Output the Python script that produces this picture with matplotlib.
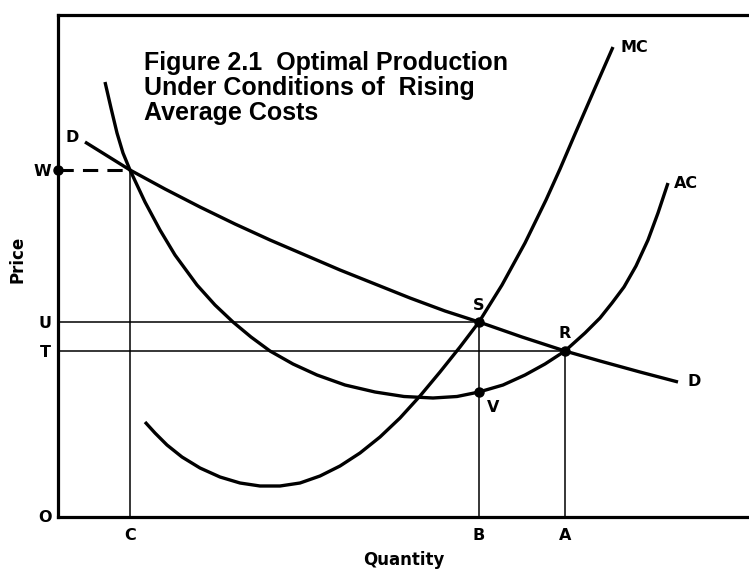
import matplotlib
matplotlib.use("Agg")
import matplotlib.pyplot as plt

# ---- data (quantity, price) ----
demand_q = [2.7, 7.2, 10.7, 14.2, 17.7, 21.2, 24.7, 28.2, 31.7, 35.2, 38.7, 42.1, 46.4, 50.7, 54.2, 58.2, 62.0]
demand_p = [37.5, 34.7, 32.8, 31.0, 29.3, 27.7, 26.2, 24.7, 23.3, 21.9, 20.6, 19.5, 18.0, 16.6, 15.6, 14.5, 13.5]

ac_q = [4.7, 5.3, 5.9, 6.5, 7.2, 8.7, 10.2, 11.7, 13.9, 15.7, 17.5, 19.3, 21.2, 23.5, 25.9, 28.7, 31.7,
        34.6, 37.5, 39.9, 42.1, 44.5, 46.7, 48.7, 50.7, 52.7, 54.2, 55.4, 56.6, 57.8, 59.0, 60.0, 61.0]
ac_p = [43.5, 40.9, 38.4, 36.4, 34.7, 31.5, 28.7, 26.2, 23.2, 21.2, 19.5, 18.0, 16.6, 15.3, 14.2, 13.2, 12.5,
        12.05, 11.9, 12.05, 12.5, 13.2, 14.2, 15.3, 16.6, 18.4, 19.9, 21.4, 23.0, 25.1, 27.7, 30.4, 33.4]

mc_q = [8.7, 9.7, 10.9, 12.4, 14.2, 16.2, 18.2, 20.2, 22.2, 24.2, 26.2, 28.2, 30.2, 32.2, 34.2, 36.2,
        38.2, 40.2, 42.1, 44.4, 46.7, 48.8, 50.2, 51.7, 53.7, 55.5]
mc_p = [9.5, 8.4, 7.2, 6.0, 4.9, 4.0, 3.4, 3.1, 3.1, 3.4, 4.1, 5.1, 6.4, 8.0, 9.9, 12.1,
        14.5, 17.0, 19.5, 23.2, 27.4, 31.7, 34.8, 38.3, 42.9, 47.0]

q_C, q_B, q_A = 7.2, 42.1, 50.7
p_W, p_U, p_T, p_V = 34.7, 19.5, 16.6, 12.5
x_ticks = [q_C, q_B, q_A]
x_tick_labels = ["C", "B", "A"]
y_ticks = [p_T, p_U, p_W]
y_tick_labels = ["T", "U", "W"]

title_text = "Figure 2.1  Optimal Production\nUnder Conditions of  Rising\nAverage Costs"

# ---- figure ----
W_PX, H_PX = 749, 569
fig = plt.figure(figsize=(W_PX / 100, H_PX / 100), dpi=100)
ax = fig.add_axes([58 / W_PX, (H_PX - 517) / H_PX, (W_PX - 58) / W_PX, (517 - 15) / H_PX])
ax.set_xlim(0, (W_PX - 58) / 10)
ax.set_ylim(0, (517 - 15) / 10)

for s in ["left", "bottom", "top"]:
    ax.spines[s].set_linewidth(2.3)
ax.spines["right"].set_visible(False)

lab_font = dict(family="DejaVu Sans", fontweight="bold", fontsize=11.5)

ax.set_xticks(x_ticks)
ax.set_xticklabels(x_tick_labels, **lab_font)
ax.set_yticks(y_ticks)
ax.set_yticklabels(y_tick_labels, **lab_font)
ax.tick_params(axis="x", length=0, pad=8)
ax.tick_params(axis="y", length=0, pad=5)

curve_kw = dict(color="black", lw=2.4, solid_capstyle="butt", solid_joinstyle="round", clip_on=False)
ax.plot(demand_q, demand_p, **curve_kw)
ax.plot(ac_q, ac_p, **curve_kw)
ax.plot(mc_q, mc_p, **curve_kw)

thin = dict(color="black", lw=1.1, clip_on=False)
ax.plot([0, q_B], [p_U, p_U], **thin)
ax.plot([0, q_A], [p_T, p_T], **thin)
ax.plot([q_C, q_C], [0, p_W], **thin)
ax.plot([q_B, q_B], [0, p_U], **thin)
ax.plot([q_A, q_A], [0, p_T], **thin)
ax.plot([0, q_C], [p_W, p_W], color="black", lw=2.2, dashes=(5, 3), clip_on=False)

ax.plot([0, q_B, q_B, q_A], [p_W, p_U, p_V, p_T], "o", color="black", ms=6.5, clip_on=False)

ax.text(-0.6, -0.1, "O", ha="right", va="center", **lab_font)
ax.text(1.4, 37.9, "D", ha="center", va="center", **lab_font)
ax.text(63.6, 13.5, "D", ha="center", va="center", **lab_font)
ax.text(q_B, p_U + 1.6, "S", ha="center", va="center", **lab_font)
ax.text(q_A, p_T + 1.8, "R", ha="center", va="center", **lab_font)
ax.text(q_B + 1.4, p_V - 1.5, "V", ha="center", va="center", **lab_font)
ax.text(56.3, 47.0, "MC", ha="left", va="center", **lab_font)
ax.text(61.6, 33.4, "AC", ha="left", va="center", **lab_font)

ax.text(-4.0, 25.8, "Price", rotation=90, ha="center", va="center", clip_on=False,
        family="DejaVu Sans", fontweight="bold", fontsize=12)
ax.text(34.6, -4.3, "Quantity", ha="center", va="center", clip_on=False,
        family="DejaVu Sans", fontweight="bold", fontsize=12)

ax.text(8.6, 46.6, title_text, ha="left", va="top", family="Liberation Sans",
        fontweight="bold", fontsize=18, linespacing=1.05)

fig.savefig("out.png", dpi=100)
